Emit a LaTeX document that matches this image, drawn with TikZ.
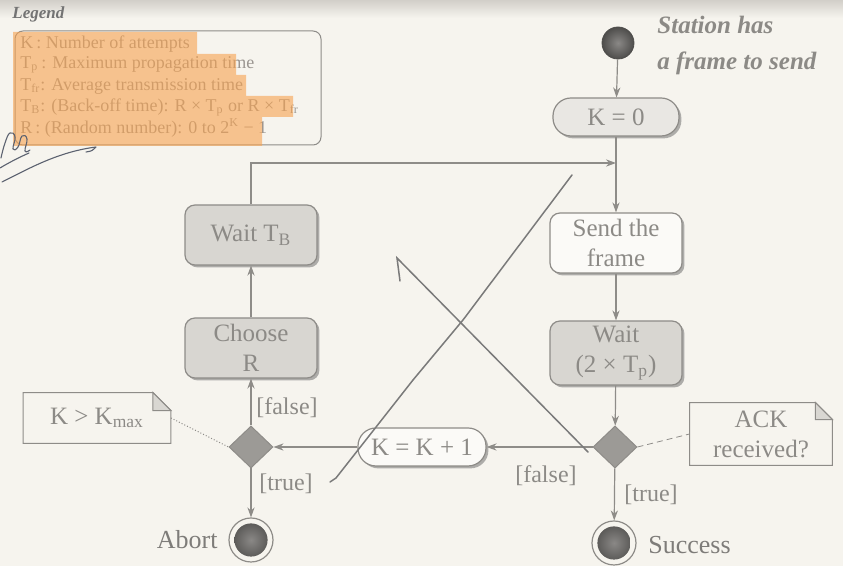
\documentclass[tikz,border=0pt]{standalone}
\usepackage{fontspec}
\setmainfont{Liberation Serif}
\usetikzlibrary{arrows.meta,shapes.geometric,shadows,calc}

\definecolor{paper}{HTML}{F6F4EE}
\definecolor{band}{HTML}{D2CFC9}
\definecolor{txt}{HTML}{8C8A86}
\definecolor{edge}{HTML}{8E8C88}
\definecolor{boxgrey}{HTML}{D8D6D1}
\definecolor{boxpale}{HTML}{E9E7E3}
\definecolor{boxwhite}{HTML}{FBFAF7}
\definecolor{diam}{HTML}{9C9A96}
\definecolor{dotin}{HTML}{8A8886}
\definecolor{dotout}{HTML}{4E4D4B}
\definecolor{pen}{HTML}{7A7A7A}
\definecolor{ink}{HTML}{5C6270}
\definecolor{marker}{HTML}{F7A24F}
\definecolor{legtxt}{HTML}{9A9590}
\definecolor{foldfill}{HTML}{D9D7D2}

\begin{document}
\begin{tikzpicture}[x=0.5pt, y=-0.5pt,
  shadowed/.style={drop shadow={shadow xshift=1.2pt, shadow yshift=-1.2pt, opacity=.5, fill=black!60}},
  act/.style={draw=edge, line width=0.6pt, rounded corners=5pt, fill=boxgrey, text=txt,
    font=\fontsize{12.5}{15}\selectfont, align=center, inner sep=1pt,
    minimum width=66pt, minimum height=30pt, shadowed},
  pill/.style={act, rounded corners=9pt, minimum height=19pt, minimum width=63pt},
  decision/.style={diamond, draw=edge, line width=0.5pt, fill=diam, minimum width=22pt,
    minimum height=21pt, inner sep=0pt},
  startdot/.style={circle, minimum size=16pt, inner sep=0pt, draw=dotout,
    inner color=dotin, outer color=dotout},
  enddot/.style={circle, minimum size=22pt, inner sep=0pt, draw=edge, line width=0.6pt, fill=paper,
    path picture={\shade[inner color=dotin, outer color=dotout]
      (path picture bounding box.center) circle (8.3pt);}},
  flow/.style={draw=edge, line width=0.6pt, -{Stealth[length=5pt, width=3.6pt]}},
  lab/.style={text=txt, font=\fontsize{12}{13}\selectfont},
  notetext/.style={text=txt, font=\fontsize{12.5}{15}\selectfont, align=center, inner sep=0pt},
  legline/.style={anchor=west, text=legtxt, font=\fontsize{9}{10}\selectfont, inner sep=0pt},
  scribble/.style={draw=ink, line width=0.55pt, line cap=round, line join=round},
  penline/.style={draw=pen, line width=0.75pt, line cap=round}
]
\useasboundingbox (0,0) rectangle (843,566);
\fill[paper] (0,0) rectangle (843,566);
\shade[top color=band, bottom color=paper] (0,0) rectangle (843,18);

% ---------- legend ----------
\node[anchor=west, text=black!55, font=\bfseries\itshape\fontsize{8.5}{10}\selectfont, inner sep=0pt]
  (legtitle) at (12,14) {Legend};
\node[draw=edge, line width=0.5pt, rounded corners=4pt, minimum width=153pt, minimum height=57pt,
  inner sep=0pt] (legend) at (168,88) {};
\node[legline] (l1) at (20,44)  {K\,:\ Number of attempts};
\node[legline] (l2) at (20,65)  {T\textsubscript{p}\,: Maximum propagation time};
\node[legline] (l3) at (20,86)  {T\textsubscript{fr}: Average transmission time};
\node[legline] (l4) at (20,107) {T\textsubscript{B}: (Back-off time): R × T\textsubscript{p} or R × T\textsubscript{fr}};
\node[legline] (l5) at (20,128) {R\,: (Random number): 0 to 2\textsuperscript{K} − 1};
% marker stroke over the legend
\fill[marker, opacity=.6] (13,32) -- (197,32) -- (197,54) -- (236,54) -- (236,75) -- (246,75)
  -- (246,96) -- (293,96) -- (293,117) -- (262,117) -- (262,146) -- (13,146) -- cycle;

% ---------- activity nodes ----------
\node[startdot] (start) at (618,43) {};
\node[anchor=west, text=txt, font=\bfseries\itshape\fontsize{12.5}{18}\selectfont, align=left,
  inner sep=0pt] (stationtxt) at (657,45) {Station has\\a frame to send};

\node[pill, fill=boxpale] (k0) at (616,117) {K = 0};
\node[act, fill=boxwhite] (send) at (616,243) {Send the\\frame};
\node[act, minimum height=32pt] (wait2) at (616,353) {Wait\\(2 × T\textsubscript{p})};
\node[decision] (dec2) at (615,447) {};
\node[enddot] (success) at (614,543) {};
\node[anchor=west, text=txt!90!black, font=\fontsize{13}{14}\selectfont, inner sep=0pt]
  (successtxt) at (648,545) {Success};

\node[pill, fill=boxwhite, minimum width=64pt] (kk) at (422,447) {K = K + 1};

\node[decision] (dec1) at (251,447) {};
\node[enddot] (abort) at (251,540) {};
\node[anchor=east, text=txt!90!black, font=\fontsize{13}{14}\selectfont, inner sep=0pt]
  (aborttxt) at (218,540) {Abort};
\node[act] (chooser) at (251,348) {Choose\\R};
\node[act] (waittb) at (251,235) {Wait T\textsubscript{B}};

% ---------- notes ----------
\node[notetext, minimum width=73.5pt, minimum height=25pt] (knote) at (97,418)
  {K > K\textsubscript{max}};
\draw[edge, line width=0.5pt] (knote.south west) -- (knote.north west)
  -- ($(knote.north east)+(-18,0)$) -- ($(knote.north east)+(0,18)$) -- (knote.south east) -- cycle;
\filldraw[draw=edge, line width=0.5pt, fill=foldfill] ($(knote.north east)+(-18,0)$)
  -- ($(knote.north east)+(-18,18)$) -- ($(knote.north east)+(0,18)$) -- cycle;

\node[notetext, minimum width=71pt, minimum height=31pt] (acknote) at (761,434)
  {ACK\\received?};
\draw[edge, line width=0.5pt] (acknote.south west) -- (acknote.north west)
  -- ($(acknote.north east)+(-17,0)$) -- ($(acknote.north east)+(0,17)$) -- (acknote.south east) -- cycle;
\filldraw[draw=edge, line width=0.5pt, fill=foldfill] ($(acknote.north east)+(-17,0)$)
  -- ($(acknote.north east)+(-17,17)$) -- ($(acknote.north east)+(0,17)$) -- cycle;

% ---------- connectors ----------
\coordinate (join) at (616,163);
\draw[flow] (start) -- (k0);
\draw[flow] (k0) -- (send);
\draw[flow] (waittb.north) |- (join);
\draw[flow] (send) -- (wait2);
\draw[flow] (wait2) -- (dec2);
\draw[flow] (dec2) -- (success);
\draw[flow] (dec2) -- (kk);
\draw[flow] (kk) -- (dec1);
\draw[flow] (dec1) -- (chooser);
\draw[flow] (chooser) -- (waittb);
\draw[flow] (dec1) -- (abort);
\draw[edge, line width=0.5pt, densely dotted] (knote.east) -- (dec1.west);
\draw[edge, line width=0.4pt, densely dashed] (dec2.east) -- (acknote.west);

% guard labels
\node[lab] (f1) at (287,408) {[false]};
\node[lab] (t1) at (286,484) {[true]};
\node[lab] (f2) at (546,476) {[false]};
\node[lab] (t2) at (651,495) {[true]};

% ---------- pen marks ----------
\draw[penline] (330,482) -- (336,478) -- (413,380) -- (463,320) -- (572,175);
\draw[penline] (588,452) -- (397,258) -- (400,281);
\draw[scribble] (2,182) .. controls (30,168) and (58,152) .. (96,147) .. controls (92,151) .. (86,152);
\draw[scribble] plot[smooth, tension=.8] coordinates {(1,158) (5,143) (10,133) (15,137) (13,149)
  (18,147) (22,136) (27,139) (25,151) (30,150)};
\draw[scribble] (0,168) .. controls (10,162) and (20,157) .. (29,153);
\end{tikzpicture}
\end{document}
